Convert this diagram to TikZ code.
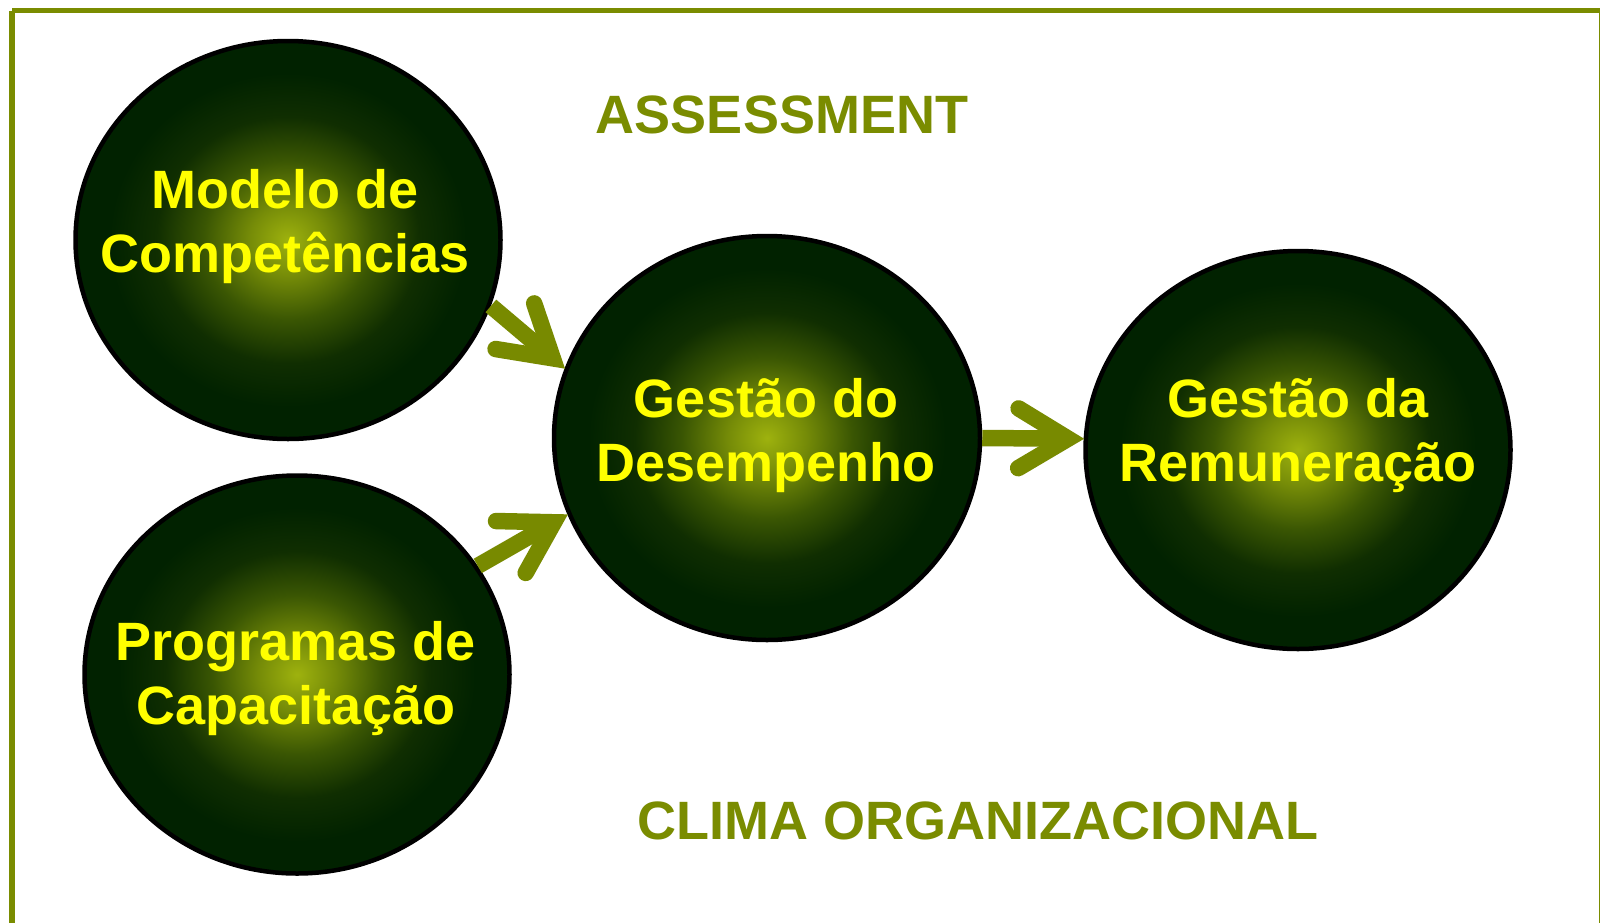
\documentclass[tikz,border=0pt]{standalone}
\usepackage{fontspec}
\setmainfont{Liberation Sans}
\usetikzlibrary{calc,shapes.geometric}
\definecolor{myolive}{RGB}{122,140,0}
\definecolor{arrowc}{RGB}{120,138,0}
\definecolor{dkg}{RGB}{1,34,0}
\definecolor{glowA}{RGB}{158,178,14}
\definecolor{glowB}{RGB}{118,140,8}
\definecolor{glowC}{RGB}{58,86,3}
\definecolor{glowD}{RGB}{16,46,1}
\definecolor{txty}{RGB}{255,255,0}
\pgfdeclareradialshading{glow}{\pgfpoint{0bp}{0bp}}{color(0bp)=(glowA); color(4.5bp)=(glowB); color(10bp)=(glowC); color(15.5bp)=(glowD); color(21bp)=(dkg); color(50bp)=(dkg)}
\begin{document}
\begin{tikzpicture}[x=1pt,y=-1pt,
  bubble/.style={ellipse, draw=black, line width=4.5pt, inner sep=0pt,
    minimum width=425pt, minimum height=398pt, shade, shading=glow},
  lbl/.style={text=txty, font=\fontsize{54}{64}\selectfont\bfseries, align=center, inner sep=0pt},
  ttl/.style={text=myolive, font=\fontsize{54}{64}\selectfont\bfseries, inner sep=0pt},
  shaft/.style={draw=arrowc, line width=16.5pt, line cap=butt},
  barb/.style={draw=arrowc, line width=16.5pt, line cap=round, line join=miter},
  frame/.style={draw=myolive, line width=5.5pt}]
\useasboundingbox (0,0) rectangle (1600,922);
\fill[white] (0,0) rectangle (1600,922);
\draw[frame] (12,10.7) -- (1601.5,10.7) -- (1601.5,935) (12,10.7) -- (12,935);

\node[bubble] (m) at (288,240) {};
\node[bubble] (p) at (297,674.5) {};
\node[bubble, minimum width=426pt, minimum height=404pt] (d) at (767,438) {};
\node[bubble] (r) at (1298,450) {};

\node[lbl] (mt) at (285,227) {Modelo de\\Competências};
\node[lbl] (pt) at (296,679) {Programas de\\Capacitação};
\node[lbl] (dt) at (766,436) {Gestão do\\Desempenho};
\node[lbl] (rt) at (1298,436) {Gestão da\\Remuneração};

\node[ttl, anchor=base] (as) at (782,133) {ASSESSMENT};
\node[ttl, anchor=base] (cl) at (978,839) {CLIMA ORGANIZACIONAL};

% arrow 1
\coordinate (s1) at (m.-18.8);
\coordinate (t1) at (d.161.2);
\coordinate (v1) at ($(t1)!15.5pt!(s1)$);
\draw[shaft] (s1) -- (v1);
\draw[barb] ($(v1)!58pt!31:(s1)$) -- (v1) -- ($(v1)!58pt!-31:(s1)$);
% arrow 2
\coordinate (s2) at (p.31.2);
\coordinate (t2) at (d.201.4);
\coordinate (v2) at ($(t2)!15.5pt!(s2)$);
\draw[shaft] (s2) -- (v2);
\draw[barb] ($(v2)!58pt!31:(s2)$) -- (v2) -- ($(v2)!58pt!-31:(s2)$);
% arrow 3
\coordinate (s3) at (d.-0.3);
\coordinate (t3) at (r.177.6);
\coordinate (v3) at ($(t3)!15.5pt!(s3)$);
\draw[shaft] (s3) -- (v3);
\draw[barb] ($(v3)!58pt!31:(s3)$) -- (v3) -- ($(v3)!58pt!-31:(s3)$);
\end{tikzpicture}
\end{document}
